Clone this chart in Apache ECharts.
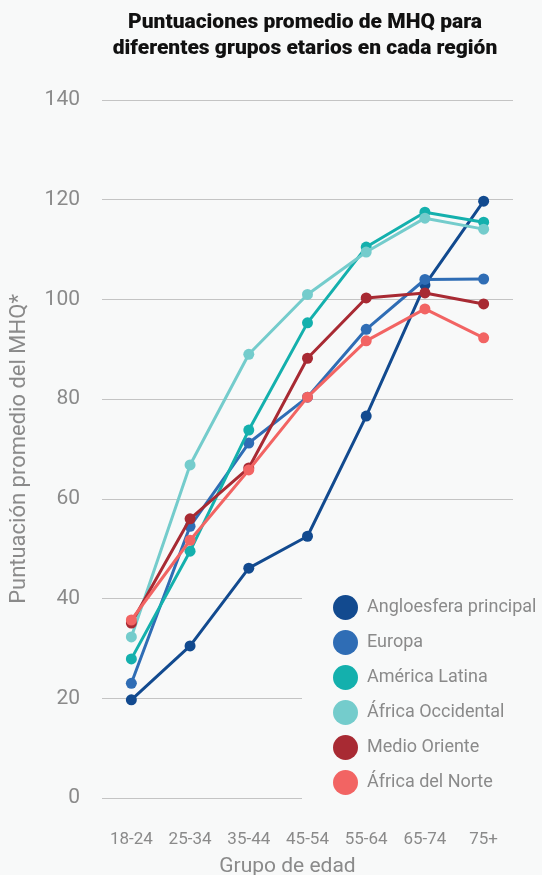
<!DOCTYPE html>
<html><head><meta charset="utf-8">
<script src="https://cdn.jsdelivr.net/npm/echarts@6/dist/echarts.min.js"></script>
<style>html,body{margin:0;padding:0;background:#f8f9f9}#c{width:542px;height:875px}</style>
</head><body><div id="c"></div>
<script>
const categories = ['18-24','25-34','35-44','45-54','55-64','65-74','75+'];
const names = ['Angloesfera principal','Europa','América Latina','África Occidental','Medio Oriente','África del Norte'];
const colors = ['#124a8f','#2f6db5','#14b0ad','#74cccc','#a82a33','#f26463'];
const angloesfera = [19.7, 30.5, 46.1, 52.5, 76.6, 102.9, 119.7];
const europa = [23.0, 54.5, 71.2, 80.4, 94.0, 104.0, 104.1];
const americaLatina = [27.9, 49.5, 73.8, 95.3, 110.5, 117.5, 115.5];
const africaOccidental = [32.3, 66.8, 89.0, 101.0, 109.5, 116.3, 114.1];
const medioOriente = [35.1, 56.0, 66.2, 88.2, 100.3, 101.3, 99.1];
const africaNorte = [35.7, 51.7, 65.8, 80.4, 91.7, 98.1, 92.3];
const seriesData = [angloesfera, europa, americaLatina, africaOccidental, medioOriente, africaNorte];

const chart = echarts.init(document.getElementById('c'));
const font = 'Roboto, sans-serif';
chart.setOption({
  backgroundColor: '#f8f9f9',
  animation: false,
  title: {
    text: 'Puntuaciones promedio de MHQ para\ndiferentes grupos etarios en cada región',
    left: 300, top: 5, textAlign: 'center',
    textStyle: {fontFamily: font, fontWeight: 900, fontSize: 21, color: '#111', lineHeight: 26, align: 'center'}
  },
  grid: {left: 102, right: 29, top: 100, bottom: 77, outerBoundsMode: 'none', containLabel: false},
  xAxis: {
    type: 'category', data: categories, boundaryGap: true,
    axisLine: {show: false}, axisTick: {show: false},
    axisLabel: {color: '#8a8a8a', fontFamily: font, fontSize: 17, margin: 33},
    name: 'Grupo de edad', nameLocation: 'middle', nameGap: 58,
    nameTextStyle: {color: '#8a8a8a', fontFamily: font, fontSize: 21, padding: [0, 40, 0, 0]}
  },
  yAxis: {
    type: 'value', min: 0, max: 140, interval: 20,
    axisLine: {show: false}, axisTick: {show: false},
    axisLabel: {color: '#8a8a8a', fontFamily: font, fontSize: 21, margin: 22},
    splitLine: {lineStyle: {color: '#c4c4c4', width: 1}},
    name: 'Puntuación promedio del MHQ*', nameLocation: 'middle', nameGap: 72,
    nameTextStyle: {color: '#8a8a8a', fontFamily: font, fontSize: 22}
  },
  legend: {
    orient: 'vertical', left: 302, top: 590,
    backgroundColor: '#f8f9f9',
    padding: [5, 5, 8, 31],
    itemWidth: 25, itemHeight: 25, itemGap: 10, icon: 'circle',
    textStyle: {color: '#8a8a8a', fontFamily: font, fontSize: 18, padding: [0, 0, 0, 4]},
    data: names
  },
  series: names.map((n, i) => ({
    name: n, type: 'line', data: seriesData[i],
    color: colors[i], symbol: 'circle', symbolSize: 11,
    lineStyle: {width: 3}, z: 2 + i
  }))
});
</script></body></html>
